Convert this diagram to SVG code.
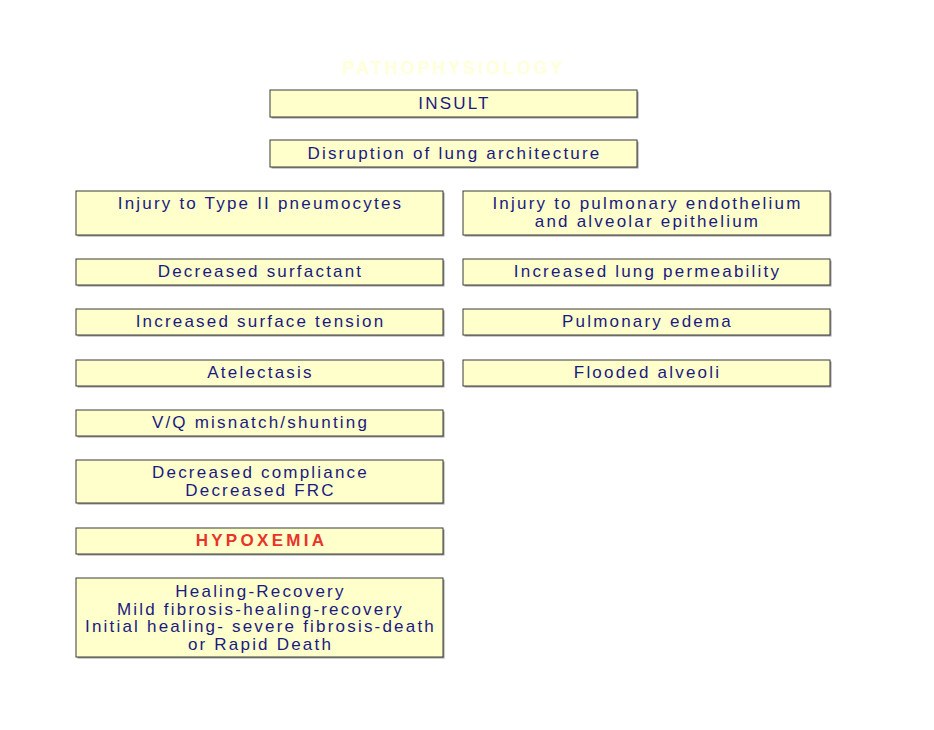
<svg xmlns="http://www.w3.org/2000/svg" width="934" height="730" viewBox="0 0 934 730">
<style>
.box{fill:#FFFFCC;stroke:#3a3a3a;stroke-width:1}
.sh{fill:#9a9a9a}
.t{font-family:"Liberation Sans",Arial,sans-serif;font-size:17px;fill:#1a1a80;text-anchor:middle;letter-spacing:2.2px}
.red{fill:#E8342A;font-weight:bold;letter-spacing:3.3px}
.title{font-family:"Liberation Sans",Arial,sans-serif;font-size:18px;font-weight:bold;fill:#FFFFDA;text-anchor:middle;letter-spacing:2.9px}
</style>
<rect width="934" height="730" fill="#ffffff"/>
<text class="title" x="454" y="74">PATHOPHYSIOLOGY</text>
<g id="insult"><rect class="sh" x="271.5" y="91.5" width="367" height="27"/><rect class="box" x="270" y="90" width="367" height="27"/><text class="t" x="454.5" y="109">INSULT</text></g>
<g id="disruption"><rect class="sh" x="271.5" y="141.5" width="367" height="27"/><rect class="box" x="270" y="140" width="367" height="27"/><text class="t" x="454.5" y="159">Disruption of lung architecture</text></g>
<g id="type2"><rect class="sh" x="77.5" y="192.5" width="367" height="44"/><rect class="box" x="76" y="191" width="367" height="44"/><text class="t" x="260.5" y="209">Injury to Type II pneumocytes</text></g>
<g id="endo"><rect class="sh" x="464.5" y="192.5" width="367" height="44"/><rect class="box" x="463" y="191" width="367" height="44"/><text class="t" x="647.5" y="209">Injury to pulmonary endothelium</text><text class="t" x="647.5" y="227">and alveolar epithelium</text></g>
<g id="surfactant"><rect class="sh" x="77.5" y="260.5" width="367" height="26"/><rect class="box" x="76" y="259" width="367" height="26"/><text class="t" x="260.5" y="277">Decreased surfactant</text></g>
<g id="permeability"><rect class="sh" x="464.5" y="260.5" width="367" height="26"/><rect class="box" x="463" y="259" width="367" height="26"/><text class="t" x="647.5" y="277">Increased lung permeability</text></g>
<g id="tension"><rect class="sh" x="77.5" y="310.5" width="367" height="26"/><rect class="box" x="76" y="309" width="367" height="26"/><text class="t" x="260.5" y="327">Increased surface tension</text></g>
<g id="edema"><rect class="sh" x="464.5" y="310.5" width="367" height="26"/><rect class="box" x="463" y="309" width="367" height="26"/><text class="t" x="647.5" y="327">Pulmonary edema</text></g>
<g id="atelectasis"><rect class="sh" x="77.5" y="361.5" width="367" height="26"/><rect class="box" x="76" y="360" width="367" height="26"/><text class="t" x="260.5" y="378">Atelectasis</text></g>
<g id="flooded"><rect class="sh" x="464.5" y="361.5" width="367" height="26"/><rect class="box" x="463" y="360" width="367" height="26"/><text class="t" x="647.5" y="378">Flooded alveoli</text></g>
<g id="vq"><rect class="sh" x="77.5" y="411.5" width="367" height="26"/><rect class="box" x="76" y="410" width="367" height="26"/><text class="t" x="260.5" y="428">V/Q misnatch/shunting</text></g>
<g id="compliance"><rect class="sh" x="77.5" y="461.5" width="367" height="43"/><rect class="box" x="76" y="460" width="367" height="43"/><text class="t" x="260.5" y="478">Decreased compliance</text><text class="t" x="260.5" y="496">Decreased FRC</text></g>
<g id="hypoxemia"><rect class="sh" x="77.5" y="529.5" width="367" height="26"/><rect class="box" x="76" y="528" width="367" height="26"/><text class="t red" x="261.5" y="546">HYPOXEMIA</text></g>
<g id="outcome"><rect class="sh" x="77.5" y="579.5" width="367" height="79"/><rect class="box" x="76" y="578" width="367" height="79"/><text class="t" x="260.5" y="597">Healing-Recovery</text><text class="t" x="260.5" y="614.5">Mild fibrosis-healing-recovery</text><text class="t" x="260.5" y="632">Initial healing- severe fibrosis-death</text><text class="t" x="260.5" y="649.5">or Rapid Death</text></g>
<g id="connectors"></g>
</svg>
